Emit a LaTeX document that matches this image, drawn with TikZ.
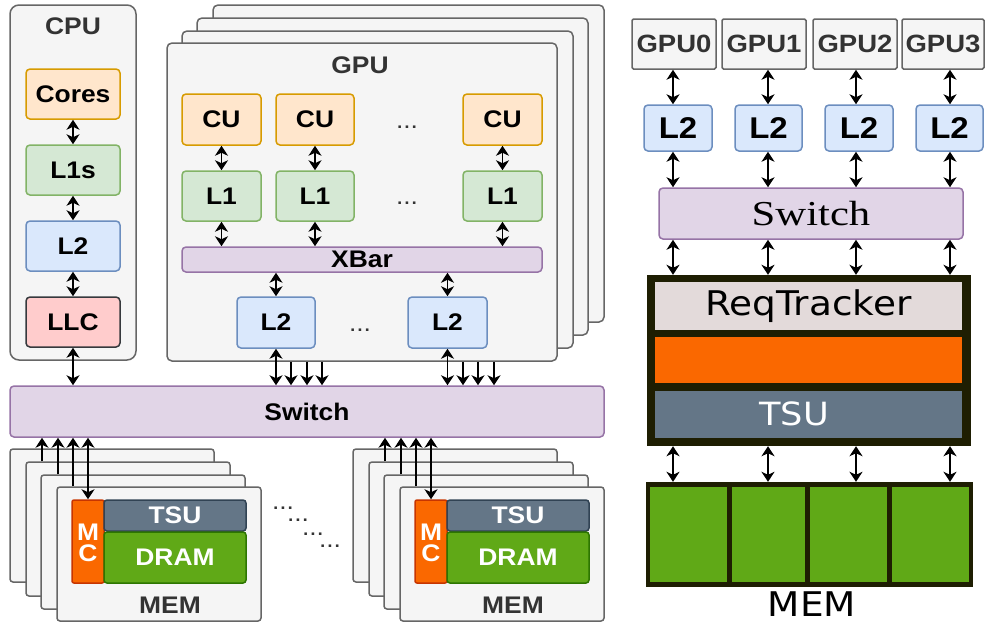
\documentclass[tikz,border=0pt]{standalone}
\usepackage{fontspec}
\setmainfont{Liberation Sans}[FakeStretch=1.1]
\newfontfamily\dvsans{DejaVu Sans}[FakeStretch=1.1]
\newfontfamily\trserif{Liberation Serif}[FakeStretch=1.22]
\usetikzlibrary{arrows.meta}

\definecolor{cbg}{HTML}{F5F5F5}
\definecolor{cline}{HTML}{666666}
\definecolor{ctext}{HTML}{333333}
\definecolor{orF}{HTML}{FFE6CC}
\definecolor{orS}{HTML}{D79B00}
\definecolor{grF}{HTML}{D5E8D4}
\definecolor{grS}{HTML}{82B366}
\definecolor{blF}{HTML}{DAE8FC}
\definecolor{blS}{HTML}{6C8EBF}
\definecolor{rdF}{HTML}{FFCCCC}
\definecolor{rdS}{HTML}{36393D}
\definecolor{puF}{HTML}{E1D5E7}
\definecolor{puS}{HTML}{9673A6}
\definecolor{mcF}{HTML}{FA6800}
\definecolor{mcS}{HTML}{C73500}
\definecolor{tsF}{HTML}{647687}
\definecolor{tsS}{HTML}{314354}
\definecolor{drF}{HTML}{60A917}
\definecolor{drS}{HTML}{2D7600}
\definecolor{dark}{HTML}{1E1E02}
\definecolor{rqF}{HTML}{E3DADA}

% box from its two corners: name, style, x1, y1, x2, y2, text
\newcommand\boxat[7]{%
  \node[#2, minimum width={(#5)-(#3)}, minimum height={(#6)-(#4)}]
    (#1) at ({((#3)+(#5))/2},{((#4)+(#6))/2}) {#7};}

\begin{document}
\begin{tikzpicture}[x=1pt,y=-1pt,
  >={Stealth[length=10pt,width=13pt,inset=3pt]},
  bold/.style={font=\fontsize{24}{24}\selectfont\bfseries},
  cont/.style={draw=cline, fill=cbg, line width=1.5pt, rounded corners=5pt, inner sep=0pt},
  clbl/.style={bold, text=ctext},
  blk/.style={draw, line width=1.5pt, rounded corners=4pt, inner sep=0pt, bold},
  orangeb/.style={blk, draw=orS, fill=orF},
  greenb/.style={blk, draw=grS, fill=grF},
  blueb/.style={blk, draw=blS, fill=blF},
  redb/.style={blk, draw=rdS, fill=rdF},
  purpleb/.style={blk, draw=puS, fill=puF},
  mcb/.style={blk, rounded corners=2pt, draw=mcS, fill=mcF},
  mclbl/.style={bold, text=white, inner sep=0pt},
  tsub/.style={blk, rounded corners=3pt, draw=tsS, fill=tsF, text=white},
  dramb/.style={blk, rounded corners=3pt, draw=drS, fill=drF, text=white},
  memb/.style={cont, rounded corners=3pt},
  gbox/.style={draw=cline, fill=cbg, line width=1.5pt, rounded corners=1.5pt, inner sep=0pt,
    text=ctext, font=\fontsize{25}{25}\selectfont\bfseries},
  dotsl/.style={font=\fontsize{24}{24}\selectfont, text=ctext, anchor=base, inner sep=0pt},
  biarr/.style={<->, line width=1.9pt},
  uparr/.style={->, line width=1.9pt},
  slab/.style={fill=#1, draw=none, inner sep=0pt}
]
\useasboundingbox (0,0) rectangle (987,625);
\fill[white] (0,0) rectangle (987,625);

% ---------------- CPU ----------------
\boxat{cpu}{cont, rounded corners=9pt}{10}{5}{136}{360}{}
\node[clbl] (cpulbl) at (73,26) {CPU};
\boxat{cores}{orangeb}{26}{69}{120}{119}{Cores}
\boxat{l1s}{greenb}{26}{145}{120}{195}{L1s}
\boxat{cl2}{blueb}{26}{221}{120}{271}{L2}
\boxat{llc}{redb}{26}{297}{120}{347}{LLC}
\draw[biarr] (cores) -- (l1s);
\draw[biarr] (l1s) -- (cl2);
\draw[biarr] (cl2) -- (llc);

% ---------------- GPU stack ----------------
\boxat{gpud}{cont}{213}{5}{604}{322}{}
\boxat{gpuc}{cont}{197}{18}{588}{335}{}
\boxat{gpub}{cont}{182}{31}{573}{348}{}
\boxat{gpua}{cont}{167}{43}{557}{361}{}
\node[clbl] (gpulbl) at (360,65) {GPU};
\boxat{cu1}{orangeb}{182}{94}{261}{145}{CU}
\boxat{cu2}{orangeb}{276}{94}{354}{145}{CU}
\boxat{cu3}{orangeb}{463}{94}{542}{145}{CU}
\boxat{g11}{greenb}{182}{171}{261}{221}{L1}
\boxat{g12}{greenb}{276}{171}{354}{221}{L1}
\boxat{g13}{greenb}{463}{171}{542}{221}{L1}
\node[dotsl] (cudots) at (407,128) {...};
\node[dotsl] (l1dots) at (407,204) {...};
\boxat{xbar}{purpleb}{182}{247}{542}{272}{XBar}
\boxat{gl2a}{blueb}{237}{297}{315}{348}{L2}
\boxat{gl2b}{blueb}{408}{297}{487}{348}{L2}
\node[dotsl] (l2dots) at (360,331) {...};
\foreach \n in {1,2,3} {
  \draw[biarr] (cu\n) -- (g1\n);
  \draw[biarr] (g1\n) -- (g1\n |- xbar.north);
}
\draw[biarr] (gl2a.north |- xbar.south) -- (gl2a);
\draw[biarr] (gl2b.north |- xbar.south) -- (gl2b);

% ---------------- Switch ----------------
\boxat{swl}{purpleb}{10}{386}{604}{437}{Switch}
\draw[biarr] (llc) -- (llc |- swl.north);
\draw[biarr] (gl2a) -- (gl2a |- swl.north);
\draw[biarr] (gl2b) -- (gl2b |- swl.north);
\foreach \xx [count=\i] in {291,307,322} {
  \coordinate (ga\i) at (\xx,0);
  \draw[uparr] (ga\i |- gpua.south) -- (ga\i |- swl.north);
}
\foreach \xx [count=\i] in {463,478,494} {
  \coordinate (gb\i) at (\xx,0);
  \draw[uparr] (gb\i |- gpua.south) -- (gb\i |- swl.north);
}

% ---------------- memory stacks ----------------
\foreach \s/\dx in {L/0,R/343} {
  \begin{scope}[xshift=\dx]
  \boxat{m\s4}{memb}{10}{449}{214}{582}{}
  \boxat{m\s3}{memb}{26}{462}{230}{596}{}
  \boxat{m\s2}{memb}{41}{475}{245}{609}{}
  \boxat{m\s1}{memb}{57}{487}{261}{621}{}
  \boxat{mc\s}{mcb}{72}{500}{104}{583}{}
  \node[mclbl] (mcm\s) at (88,532) {M};
  \node[mclbl] (mcc\s) at (88,553) {C};
  \boxat{tsu\s}{tsub}{104}{500}{246}{531}{TSU}
  \boxat{dram\s}{dramb}{104}{532}{246}{583}{DRAM}
  \node[clbl] (meml\s) at (170,605) {MEM};
  \coordinate (ma\s) at (42,0);
  \coordinate (mb\s) at (58,0);
  \coordinate (mcx\s) at (73,0);
  \draw[uparr] (ma\s |- m\s3.north) -- (ma\s |- swl.south);
  \draw[uparr] (mb\s |- m\s2.north) -- (mb\s |- swl.south);
  \draw[uparr] (mcx\s |- m\s1.north) -- (mcx\s |- swl.south);
  \draw[biarr] (mc\s.north |- swl.south) -- (mc\s);
  \end{scope}
}
\node[dotsl] (md1) at (283,509) {...};
\node[dotsl] (md2) at (298,521) {...};
\node[dotsl] (md3) at (313,535) {...};
\node[dotsl] (md4) at (330,547) {...};

% ---------------- right: multi-GPU view ----------------
\boxat{rg0}{gbox}{632}{19}{716}{69}{GPU0}
\boxat{rg1}{gbox}{722}{19}{806}{69}{GPU1}
\boxat{rg2}{gbox}{813}{19}{897}{69}{GPU2}
\boxat{rg3}{gbox}{902}{19}{984}{69}{GPU3}
\boxat{rl0}{blueb, font=\fontsize{30}{30}\selectfont\bfseries}{644}{105}{712}{151}{L2}
\boxat{rl1}{blueb, font=\fontsize{30}{30}\selectfont\bfseries}{735}{105}{802}{151}{L2}
\boxat{rl2}{blueb, font=\fontsize{30}{30}\selectfont\bfseries}{825}{105}{893}{151}{L2}
\boxat{rl3}{blueb, font=\fontsize{30}{30}\selectfont\bfseries}{916}{105}{983}{151}{L2}
\boxat{rsw}{purpleb, font=\trserif\fontsize{35}{35}\selectfont}{659}{188}{963}{239}{Switch}
\boxat{ctrl}{slab=dark}{647}{275}{971}{446}{}
\boxat{rqt}{slab=rqF, font=\dvsans\fontsize{34}{34}\selectfont}{655}{282}{962}{330}{ReqTracker}
\boxat{rmc}{slab=mcF}{655}{337}{962}{383}{}
\boxat{rtsu}{slab=tsF}{655}{391}{962}{438}{}
\node[text=white, font=\dvsans\fontsize{32}{32}\selectfont, inner sep=0pt] (rtsul) at (794,414) {TSU};
\boxat{rmem}{slab=dark}{646}{482}{973}{587}{}
\boxat{bank0}{slab=drF}{650}{487}{727}{582}{}
\boxat{bank1}{slab=drF}{732}{487}{805}{582}{}
\boxat{bank2}{slab=drF}{810}{487}{887}{582}{}
\boxat{bank3}{slab=drF}{892}{487}{969}{582}{}
\node[font=\dvsans\fontsize{34}{34}\selectfont, inner sep=0pt] (rmeml) at (812,604) {MEM};
\foreach \xx [count=\i from 0] in {673,768,856,950} {
  \coordinate (rx\i) at (\xx,0);
  \draw[biarr] (rx\i |- rg\i.south) -- (rx\i |- rl\i.north);
  \draw[biarr] (rx\i |- rl\i.south) -- (rx\i |- rsw.north);
  \draw[biarr] (rx\i |- rsw.south) -- (rx\i |- ctrl.north);
  \draw[biarr] (rx\i |- ctrl.south) -- (rx\i |- rmem.north);
}
\end{tikzpicture}
\end{document}
